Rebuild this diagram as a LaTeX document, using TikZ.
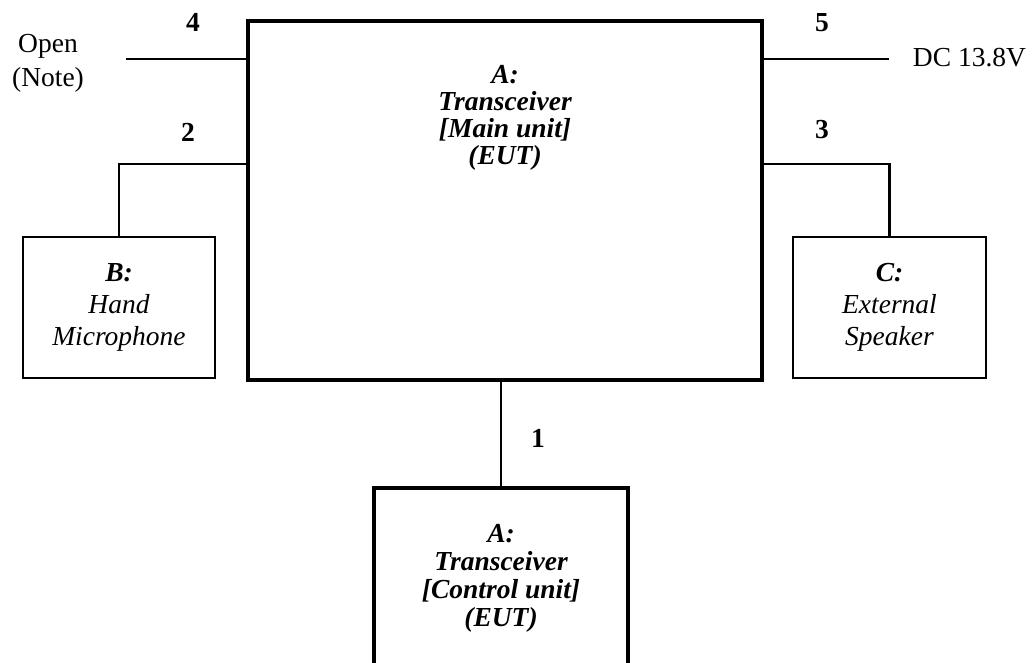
\documentclass[tikz,border=0pt]{standalone}
\usepackage{fontspec}
\setmainfont{Liberation Serif}
\usetikzlibrary{positioning}

\tikzset{
    unitbox/.style={draw, line width=2pt, inner sep=0pt},
    periph/.style={draw, line width=0.85pt, inner sep=0pt, minimum width=96pt, minimum height=70.5pt,
        align=center, font=\fontsize{13.75}{16}\selectfont\itshape},
    cable/.style={line width=1.4pt},
    portnum/.style={font=\fontsize{13.75}{16}\selectfont\bfseries},
    plain/.style={align=center, font=\fontsize{13.75}{17}\selectfont},
}

\begin{document}
\begin{tikzpicture}[x=0.5pt, y=-0.5pt]
        \clip (0,0) rectangle (1034,663);

        % transceiver, main unit
        \node[unitbox, minimum width=257pt, minimum height=179.5pt] (main) at (505,200.5) {};
        \node[align=center, font=\fontsize{13.75}{13.5}\selectfont\bfseries\itshape] (maintitle) at (505,118)
            {A:\\Transceiver\\{[Main unit]}\\(EUT)};

        % transceiver, control unit (runs off the bottom)
        \node[unitbox, minimum width=127pt, minimum height=90pt, align=center,
            font=\fontsize{13.75}{14}\selectfont\bfseries\itshape] (ctrl) at (501,578)
            {A:\\Transceiver\\{[Control unit]}\\(EUT)};

        \node[periph] (mic) at (119,307.5) {\textbf{B:}\\Hand\\Microphone};
        \node[periph, minimum width=96.5pt] (spk) at (889.5,307.5) {\textbf{C:}\\External\\Speaker};

        \node[plain] (opennote) at (48,63) {Open\\(Note)};
        \node[plain] (dcin) at (969.5,58) {DC 13.8V};

        \coordinate (port4) at (248,59);
        \coordinate (port2) at (248,164);
        \coordinate (port5) at (762,59);
        \coordinate (port3) at (762,164);
        \coordinate (openend) at (126,59);
        \coordinate (dcend) at (889,59);

        \draw[cable] (port4) -- (openend);
        \draw[cable] (port2) -| (mic.north);
        \draw[cable] (port5) -- (dcend);
        \draw[cable] (port3) -| (spk.north);
        \draw[cable] (main.south -| ctrl.north) -- (ctrl.north);

        \foreach \num/\x/\y in {4/193/22, 2/188/132, 5/822/23, 3/822/130, 1/538/438} {
            \node[portnum] (num\num) at (\x,\y) {\num};
        }
\end{tikzpicture}
\end{document}
